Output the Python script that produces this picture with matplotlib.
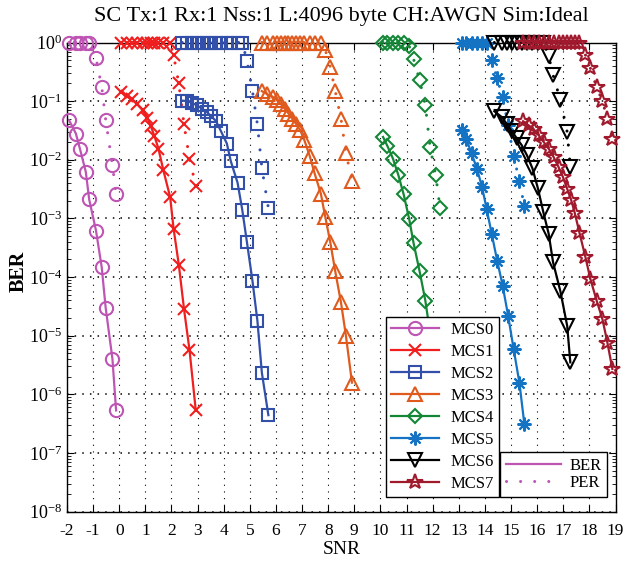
import numpy as np
import matplotlib
matplotlib.use("Agg")
import matplotlib.pyplot as plt
from matplotlib.lines import Line2D
from matplotlib.ticker import FixedLocator, LogFormatterMathtext, NullFormatter

plt.rcParams['font.family'] = ['Liberation Serif', 'DejaVu Serif']
plt.rcParams['mathtext.fontset'] = 'custom'
plt.rcParams['mathtext.rm'] = 'Liberation Serif'
plt.rcParams['mathtext.it'] = 'Liberation Serif:italic'
plt.rcParams['mathtext.bf'] = 'Liberation Serif:bold'
plt.rcParams['axes.unicode_minus'] = False

# ---- simulation results (SNR in dB, BER / PER) ----
snr_mcs0 = [-1.92, -1.66, -1.50, -1.28, -1.15, -0.89, -0.67, -0.52, -0.26, -0.12]
ber_mcs0 = [4.72e-2, 2.80e-2, 1.51e-2, 6.2e-3, 2.1e-3, 6.2e-4, 1.46e-4, 3.0e-5, 4.0e-6, 5.3e-7]
per_mcs0 = [1, 1, 1, 1, 1, 0.54, 0.175, 0.0485, 0.008, 0.0026]

snr_mcs1 = [0.06, 0.29, 0.48, 0.69, 0.90, 1.07, 1.21, 1.35, 1.50, 1.69, 1.95,
            2.08, 2.28, 2.48, 2.69, 2.93]
ber_mcs1 = [0.144, 0.123, 0.107, 0.0887, 0.070, 0.0525, 0.0373, 0.0252, 0.0155, 0.00659,
            0.0023, 6.7e-4, 1.63e-4, 2.84e-5, 5.7e-6, 5.3e-7]
per_mcs1 = [1, 1, 1, 1, 1, 1, 1, 1, 1, 1, 1, 0.61, 0.20, 0.040, 0.0104, 0.0036]

snr_mcs2 = [2.41, 2.61, 2.78, 2.97, 3.16, 3.35, 3.52, 3.70, 3.89, 4.12, 4.27, 4.53,
            4.71, 4.89, 5.10, 5.29, 5.46, 5.71]
ber_mcs2 = [0.102, 0.100, 0.0933, 0.0853, 0.0748, 0.0655, 0.0553, 0.0459, 0.031, 0.0189,
            0.0095, 0.00406, 0.0014, 3.9e-4, 8.65e-5, 1.79e-5, 2.34e-6, 4.4e-7]
per_mcs2 = [1, 1, 1, 1, 1, 1, 1, 1, 1, 1, 1, 1, 1, 0.49, 0.15, 0.040, 0.0073, 0.0015]

snr_mcs3 = [5.46, 5.67, 5.88, 6.03, 6.19, 6.33, 6.48, 6.61, 6.76, 6.93, 7.08, 7.29,
            7.48, 7.72, 7.89, 8.08, 8.27, 8.49, 8.68, 8.91]
ber_mcs3 = [0.148, 0.1315, 0.118, 0.104, 0.0887, 0.0748, 0.0615, 0.0505, 0.0415, 0.0318,
            0.0221, 0.0117, 0.00586, 0.00263, 0.00105, 3.92e-4, 1.25e-4, 3.68e-5,
            9.9e-6, 1.58e-6]
per_mcs3 = [1, 1, 1, 1, 1, 1, 1, 1, 1, 1, 1, 1, 1, 1,
            0.74, 0.385, 0.148, 0.050, 0.013, 0.0044]

snr_mcs4 = [10.10, 10.27, 10.48, 10.69, 10.89, 11.10, 11.27, 11.50, 11.72, 11.90,
            12.12, 12.28]
ber_mcs4 = [0.0245, 0.0170, 0.01045, 0.0054, 0.00256, 9.8e-4, 3.76e-4, 1.25e-4, 3.94e-5,
            1.12e-5, 2.8e-6, 7.9e-7]
per_mcs4 = [1, 1, 1, 1, 1, 0.87, 0.52, 0.228, 0.085, 0.0165, 0.0054, 0.0015]

snr_mcs5 = [13.12, 13.29, 13.49, 13.70, 13.89, 14.07, 14.26, 14.47, 14.68, 14.89,
            15.10, 15.32, 15.51]
ber_mcs5 = [0.0327, 0.0225, 0.0129, 0.0069, 0.00344, 0.00143, 5.45e-4, 1.9e-4, 7.1e-5,
            2.18e-5, 5.9e-6, 1.58e-6, 3.1e-7]
per_mcs5 = [1, 1, 1, 1, 1, 1, 0.50, 0.244, 0.116, 0.039, 0.0114, 0.0044, 0.0016]

snr_mcs6 = [14.36, 14.65, 14.84, 15.03, 15.22, 15.41, 15.61, 15.82, 16.03, 16.24,
            16.44, 16.61, 16.89, 17.15, 17.27]
ber_mcs6 = [0.0673, 0.0532, 0.0404, 0.0306, 0.0232, 0.0177, 0.0119, 0.00713, 0.00324,
            0.00126, 5.5e-4, 1.78e-4, 5.7e-5, 1.47e-5, 3.5e-6]
per_mcs6 = [1, 1, 1, 1, 1, 1, 1, 1, 1, 1, 0.59, 0.278, 0.104, 0.0298, 0.0075]

snr_mcs7 = [15.46, 15.67, 15.87, 16.06, 16.25, 16.44, 16.63, 16.82, 16.99, 17.15,
            17.30, 17.44, 17.62, 17.85, 18.04, 18.28, 18.50, 18.69, 18.88]
ber_mcs7 = [0.0454, 0.0388, 0.0331, 0.0262, 0.0201, 0.0155, 0.01114, 0.0075, 0.00506,
            0.0032, 0.00208, 0.00124, 5.7e-4, 2.17e-4, 9.2e-5, 3.94e-5, 1.91e-5,
            7.6e-6, 2.7e-6]
per_mcs7 = [1, 1, 1, 1, 1, 1, 1, 1, 1, 1, 1, 1, 1,
            0.61, 0.362, 0.171, 0.101, 0.0486, 0.023]

mcs_names = ['MCS0', 'MCS1', 'MCS2', 'MCS3', 'MCS4', 'MCS5', 'MCS6', 'MCS7']
x_ticks = list(range(-2, 20))
y_decades = list(range(-8, 1))
title_text = 'SC Tx:1 Rx:1 Nss:1 L:4096 byte CH:AWGN Sim:Ideal'

series = [
    (snr_mcs0, ber_mcs0, per_mcs0),
    (snr_mcs1, ber_mcs1, per_mcs1),
    (snr_mcs2, ber_mcs2, per_mcs2),
    (snr_mcs3, ber_mcs3, per_mcs3),
    (snr_mcs4, ber_mcs4, per_mcs4),
    (snr_mcs5, ber_mcs5, per_mcs5),
    (snr_mcs6, ber_mcs6, per_mcs6),
    (snr_mcs7, ber_mcs7, per_mcs7),
]

# ---- styling ----
colors = ['#BE55B4', '#F01E1E', '#3250AA', '#E05A1E', '#148737', '#1473C3', '#000000', '#A0192D']
markers = ['o', 'x', 's', '^', 'D', (8, 2, 0), 'v', '*']
msizes = [9.5, 8.5, 8.5, 10, 7.5, 10, 10, 11.5]
dotted = (0, (0.01, 4.6))

fig = plt.figure(figsize=(6.3, 5.62), dpi=100)
ax = fig.add_axes([67 / 630, 1 - 511.5 / 562, 548.5 / 630, 469 / 562])

for (snr, ber, per), c, m, ms in zip(series, colors, markers, msizes):
    ax.semilogy(snr, ber, linestyle='-', lw=1.6, color=c, marker=m, ms=ms,
                mfc='none', mec=c, mew=1.5, clip_on=False, zorder=3)
    ax.semilogy(snr, per, linestyle=dotted, lw=2.2, dash_capstyle='round',
                color=c, marker=m, ms=ms, mfc='none', mec=c, mew=1.5,
                clip_on=False, zorder=3)

ax.set_xlim(-2, 19)
ax.set_ylim(1e-8, 1)
ax.set_xticks(x_ticks)

# decade ticks only inside the plotted range, minor ticks at 2..9 x 10^k
major_y = [10.0 ** k for k in y_decades]
minor_y = [s * 10.0 ** k for k in y_decades[:-1] for s in range(2, 10)]
ax.yaxis.set_major_locator(FixedLocator(major_y))
ax.yaxis.set_minor_locator(FixedLocator(minor_y))
ax.yaxis.set_major_formatter(LogFormatterMathtext())
ax.yaxis.set_minor_formatter(NullFormatter())

ax.tick_params(which='both', direction='in', top=True, right=True, colors='k')
ax.tick_params(which='major', length=5, width=0.8)
ax.tick_params(which='minor', length=3, width=0.6)
ax.tick_params(axis='x', which='major', pad=8, labelsize=12.5)
ax.tick_params(axis='y', which='major', pad=3.5, labelsize=13)

ax.set_axisbelow(True)
ax.grid(True, which='major', axis='x', color='k', linestyle=(0, (1, 5)), lw=0.8)
ax.grid(True, which='major', axis='y', color='k', linestyle=(0, (1, 4)), lw=1.1)
for sp in ax.spines.values():
    sp.set_linewidth(1.0)
    sp.set_color('k')

ax.set_title(title_text, fontsize=16, pad=15.5)
ax.set_xlabel('SNR', fontsize=14)
ax.xaxis.set_label_coords(0.5, -0.0625)
ax.set_ylabel('BER', fontsize=14.5, fontweight='bold')
ax.yaxis.set_label_coords(-0.0693, 0.511)

# ---- legends ----
mcs_handles = [Line2D([], [], color=c, lw=1.6, marker=m, ms=ms, mfc='none', mec=c, mew=1.5)
               for c, m, ms in zip(colors, markers, msizes)]
leg1 = ax.legend(mcs_handles, mcs_names, loc='lower left',
                 bbox_to_anchor=(0.5816, 0.031), borderaxespad=0, fontsize=12,
                 fancybox=False, edgecolor='k', framealpha=1, handlelength=2.9,
                 handletextpad=0.66, labelspacing=0.36, borderpad=0.3, numpoints=1)
leg1.get_frame().set_linewidth(1.0)
ax.add_artist(leg1)

type_handles = [Line2D([], [], color=colors[0], lw=1.6, linestyle='-'),
                Line2D([], [], color=colors[0], lw=2.2, linestyle=dotted,
                       dash_capstyle='round')]
leg2 = ax.legend(type_handles, ['BER', 'PER'], loc='lower left',
                 bbox_to_anchor=(0.7895, 0.031), borderaxespad=0, fontsize=12,
                 fancybox=False, edgecolor='k', framealpha=1, handlelength=3.3,
                 handletextpad=0.5, labelspacing=0.05, borderpad=0.35)
leg2.get_frame().set_linewidth(1.0)

fig.savefig('out.png', dpi=100)
